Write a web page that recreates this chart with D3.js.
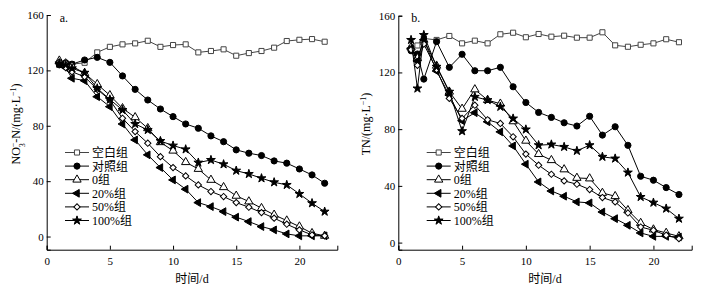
<!DOCTYPE html>
<html>
<head>
<meta charset="utf-8">
<script src="https://cdn.jsdelivr.net/npm/d3@7"></script>
<style>
  body { margin: 0; background: #fff; }
  text { font-family: "Liberation Serif", "Noto Sans CJK SC", serif; fill: #000; }
</style>
</head>
<body>
<svg id="chart" width="711" height="289"></svg>
<script>
var days = [1, 1.5, 2, 3, 4, 5, 6, 7, 8, 9, 10, 11, 12, 13, 14, 15, 16, 17, 18, 19, 20, 21, 22];
var groupNames = ["空白组", "对照组", "0组", "20%组", "50%组", "100%组"];
var xTicks = [0, 5, 10, 15, 20];
var yTicks = [0, 40, 80, 120, 160];

// panel a: NO3--N
var aBlank   = [125, 125, 124.5, 125.5, 133, 137, 138.8, 139.5, 141.4, 137, 138.3, 138.8, 133, 134, 135.2, 130.6, 132.5, 134, 136.4, 141.2, 142.1, 142.6, 140.7];
var aControl = [124, 125.5, 124.5, 127.5, 129.4, 125.8, 116, 106.3, 98.6, 92.1, 86.6, 81.3, 78.2, 72.7, 68.5, 62.6, 60.2, 58.5, 54.6, 53, 48.8, 44.5, 38.5];
var aZero    = [127, 125, 123, 118, 110, 102, 92.6, 86.1, 78.2, 68.1, 62, 53.7, 48.8, 40.9, 35.6, 29.4, 25.3, 20.5, 15.7, 11.5, 7.2, 2.4, 0.5];
var a20      = [125, 122, 114.3, 112.6, 101, 93.8, 81.3, 69.8, 59, 49.8, 40.9, 34.2, 24.5, 21.6, 18, 14, 10.8, 7.2, 4.8, 1.9, 0.5, 0.5, 0.5];
var a50      = [126, 122, 119, 115.4, 106.3, 98.6, 85.4, 75.8, 67.4, 57.7, 49.8, 43.8, 37.3, 32.5, 28.9, 24.5, 21.2, 17.3, 13.3, 8.9, 4.8, 1.2, 0.5];
var a100     = [125, 124, 121.5, 118.3, 107, 99, 91.4, 81.3, 77, 69, 65.7, 63, 53.4, 55.3, 52.2, 47.6, 45.2, 42.1, 39.2, 37.3, 30.8, 24.1, 18];

// panel b: TN
var bBlank   = [137, 139, 144, 142.9, 145.7, 140.5, 142.4, 140.5, 146.9, 148, 144.8, 147.1, 145.2, 145.9, 144.5, 144.5, 148.3, 139.1, 138.1, 139.5, 140.5, 143.4, 141.3];
var bControl = [135.3, 133, 115.3, 141.7, 123.6, 132.8, 121.2, 121.2, 123.6, 109.9, 98.8, 91.8, 88.3, 84.5, 82.2, 89.1, 75.8, 81.7, 68.6, 46.8, 44, 38.8, 33.9];
var bZero    = [137.6, 130, 143, 124.7, 106.4, 94.3, 108, 100.5, 97.9, 85.5, 71.8, 62.4, 58.1, 51.6, 45.6, 45.2, 35, 32.7, 22.8, 13.8, 9.2, 6.8, 4.4];
var b20      = [137, 128, 143, 121, 104, 86, 91.6, 85.2, 78.1, 68.2, 55.3, 42.8, 36.4, 32.7, 28.7, 28, 21.6, 16.9, 12.2, 6.8, 4.4, 4.4, 4];
var b50      = [136, 125, 140, 122, 101.7, 87.6, 96.9, 86.6, 84, 74.6, 62.4, 54.6, 48.2, 43.5, 41.2, 37.4, 31.8, 28.7, 20.9, 11, 8.7, 5.2, 2.8];
var b100     = [142.9, 108.7, 146.4, 124, 106.4, 78.6, 102.8, 100.5, 95.8, 87.5, 79.8, 68.7, 69.2, 67.5, 64.7, 68.7, 60.5, 59.3, 49.4, 32.2, 28.2, 24, 16.9];

var svg = d3.select("#chart");

// marker styles per group: shape, fill, rotation
var markers = [
  { type: d3.symbolSquare,   size: 26, fill: "#fff", stroke: "#444", rot: 0 },
  { type: d3.symbolCircle,   size: 30, fill: "#000", stroke: "#000", rot: 0 },
  { type: d3.symbolTriangle, size: 30, fill: "#fff", stroke: "#000", rot: 0 },
  { type: d3.symbolTriangle, size: 26, fill: "#000", stroke: "#000", rot: -90 },
  { type: d3.symbolSquare,   size: 20, fill: "#fff", stroke: "#000", rot: 45 },
  { type: d3.symbolStar,     size: 24, fill: "#000", stroke: "#000", rot: 0 }
];

function drawPanel(opt) {
  var x = d3.scaleLinear().domain([0, 23]).range([opt.left, opt.right]);
  var y = d3.scaleLinear().domain([opt.yMin, 160]).range([249.7, opt.top]);
  var g = svg.append("g");

  g.append("g")
    .attr("transform", "translate(0,249.7)")
    .call(d3.axisBottom(x).tickValues(xTicks).tickSize(-4).tickSizeOuter(-4).tickPadding(8))
    .call(function(a) {
      a.selectAll("text").style("font-size", "11px").attr("font-family", null);
      a.attr("font-family", null);
    });

  g.append("g")
    .attr("transform", "translate(" + opt.left + ",0)")
    .call(d3.axisLeft(y).tickValues(yTicks).tickSize(-4).tickSizeOuter(-4).tickPadding(3))
    .call(function(a) {
      a.selectAll("text").style("font-size", "11px").attr("font-family", null);
      a.attr("font-family", null);
    });

  var line = d3.line()
    .x(function(d, i) { return x(days[i]); })
    .y(function(d) { return y(d); });

  opt.series.forEach(function(s, k) {
    var m = markers[k];
    g.append("path")
      .datum(s)
      .attr("fill", "none")
      .attr("stroke", k === 0 ? "#444" : "#000")
      .attr("stroke-width", 1)
      .attr("d", line);
    g.selectAll(".m" + k)
      .data(s)
      .enter()
      .append("path")
        .attr("class", "m" + k)
        .attr("d", d3.symbol().type(m.type).size(m.size))
        .attr("transform", function(d, i) {
          return "translate(" + x(days[i]) + "," + y(d) + ") rotate(" + m.rot + ")";
        })
        .attr("fill", m.fill)
        .attr("stroke", m.stroke)
        .attr("stroke-width", 1);
  });

  // legend
  groupNames.forEach(function(name, k) {
    var m = markers[k];
    var ly = 152.5 + k * 13.6;
    g.append("line")
      .attr("x1", opt.legX).attr("x2", opt.legX + 24)
      .attr("y1", ly).attr("y2", ly)
      .attr("stroke", k === 0 ? "#444" : "#000");
    g.append("path")
      .attr("d", d3.symbol().type(m.type).size(m.size))
      .attr("transform", "translate(" + (opt.legX + 12) + "," + ly + ") rotate(" + m.rot + ")")
      .attr("fill", m.fill)
      .attr("stroke", m.stroke);
    g.append("text")
      .attr("x", opt.legX + 27)
      .attr("y", ly + 4.5)
      .style("font-size", "12px")
      .text(name);
  });

  g.append("text")
    .attr("x", opt.left + 13)
    .attr("y", 22)
    .style("font-size", "12px")
    .text(opt.tag);

  g.append("text")
    .attr("x", (opt.left + opt.right) / 2)
    .attr("y", 283)
    .style("text-anchor", "middle")
    .style("font-size", "12px")
    .text("时间/d");

  var yl = g.append("text")
    .attr("transform", "translate(" + opt.yLabelX + ",124) rotate(-90)")
    .style("text-anchor", "middle")
    .style("font-size", "12px");
  opt.yLabel(yl);
}

drawPanel({
  left: 46.7, right: 337.3, top: 15, yMin: -9.5, legX: 65, tag: "a.",
  yLabelX: 20,
  series: [aBlank, aControl, aZero, a20, a50, a100],
  yLabel: function(t) {
    t.append("tspan").text("NO");
    t.append("tspan").attr("baseline-shift", "sub").style("font-size", "8px").text("3");
    t.append("tspan").attr("dx", -4).attr("baseline-shift", "super").style("font-size", "8px").text("−");
    t.append("tspan").text("-N/(mg·L");
    t.append("tspan").attr("baseline-shift", "super").style("font-size", "8px").text("−1");
    t.append("tspan").text(")");
  }
});

drawPanel({
  left: 398.3, right: 691.7, top: 15.7, yMin: -5, legX: 426.7, tag: "b.",
  yLabelX: 370,
  series: [bBlank, bControl, bZero, b20, b50, b100],
  yLabel: function(t) {
    t.append("tspan").text("TN/(mg·L");
    t.append("tspan").attr("baseline-shift", "super").style("font-size", "8px").text("−1");
    t.append("tspan").text(")");
  }
});
</script>
</body>
</html>
